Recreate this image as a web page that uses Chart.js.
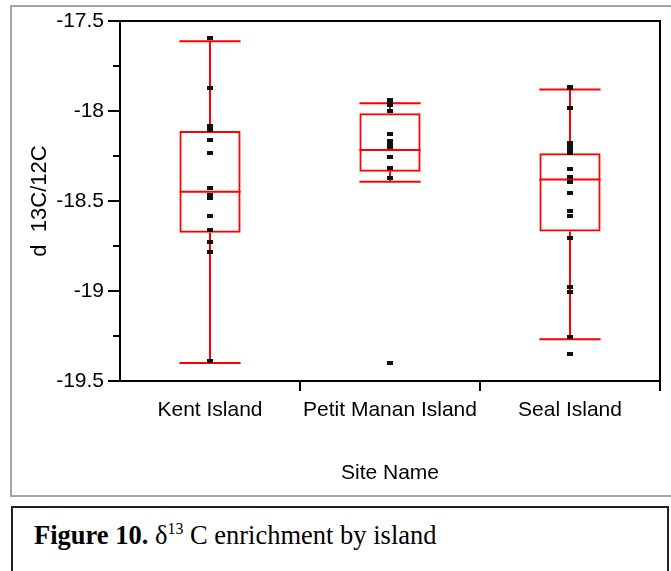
<!DOCTYPE html>
<html>
<head>
<meta charset="utf-8">
<title>d13C by site</title>
<script src="https://cdn.jsdelivr.net/npm/chart.js@4.4.1/dist/chart.umd.min.js"></script>
<style>
    body {
        margin: 0;
        width: 671px;
        height: 571px;
        overflow: hidden;
        background: #fff;
        position: relative;
    }
    .frame {
        position: absolute;
        left: 10px;
        top: 5px;
        width: 680px;
        height: 488px;
        border: 2px solid #a3a3a3;
    }
    #isotope-chart {
        position: absolute;
        left: 0;
        top: 0;
    }
    .caption {
        position: absolute;
        left: 11px;
        top: 506px;
        width: 654px;
        height: 70px;
        border: 2px solid #222;
        font-family: 'Liberation Serif', 'Times New Roman', serif;
        font-size: 26.5px;
        color: #000;
    }
    .caption p {
        margin: 0;
        position: absolute;
        left: 21px;
        top: 12px;
        white-space: nowrap;
    }
    .caption sup {
        font-size: 0.6em;
    }
</style>
</head>
<body>
<div class="frame"></div>
<canvas id="isotope-chart" width="671" height="497"></canvas>
<div class="caption"><p><b>Figure 10.</b> &delta;<sup>13</sup> C enrichment by island</p></div>

<script>
// Sites and the individual d13C/12C measurements for each
const sites = ['Kent Island', 'Petit Manan Island', 'Seal Island'];

const kentValues = [-17.596, -17.874, -18.082, -18.094, -18.106, -18.161, -18.232, -18.429,
    -18.467, -18.486, -18.583, -18.661, -18.729, -18.785, -19.389];
const petitValues = [-17.939, -17.953, -17.967, -17.998, -18.128, -18.167, -18.183, -18.2,
    -18.257, -18.318, -18.374, -19.402];
const sealValues = [-17.864, -17.872, -17.985, -18.179, -18.198, -18.217, -18.235, -18.324,
    -18.365, -18.393, -18.457, -18.556, -18.586, -18.707, -18.976, -19.007, -19.254, -19.35];

// Box summaries per site (same order as sites)
const quartile1 = [-18.676, -18.337, -18.67];
const medians = [-18.448, -18.217, -18.38];
const quartile3 = [-18.111, -18.013, -18.235];
const whiskerLow = [-19.4, -18.393, -19.268];
const whiskerHigh = [-17.613, -17.957, -17.88];

// Y axis range and unlabelled ticks
const yMin = -19.5;
const yMax = -17.5;
const yStep = 0.5;
const minorTicks = [-17.75, -18.25, -18.75, -19.25];

const RED = '#ff0000';
const FONT = "'Liberation Sans', Arial, sans-serif";

// Small flat marker used for every data point
function makeMarker() {
    const c = document.createElement('canvas');
    c.width = 6;
    c.height = 4;
    const g = c.getContext('2d');
    g.fillStyle = '#111';
    g.fillRect(0, 0, 6, 4);
    return c;
}

// Whiskers, caps and median lines, plus the plot frame and minor ticks
const boxPlotLines = {
    id: 'boxPlotLines',
    beforeDatasetsDraw(chart) {
        const { ctx, scales: { x, y } } = chart;
        const boxes = chart.getDatasetMeta(1).data;
        ctx.save();
        ctx.strokeStyle = RED;
        ctx.lineWidth = 2;
        sites.forEach((site, i) => {
            const cx = Math.round(x.getPixelForValue(i));
            const half = boxes[i].width / 2;
            const hi = y.getPixelForValue(whiskerHigh[i]);
            const lo = y.getPixelForValue(whiskerLow[i]);
            const q1 = y.getPixelForValue(quartile1[i]);
            const q3 = y.getPixelForValue(quartile3[i]);
            const med = y.getPixelForValue(medians[i]);
            ctx.beginPath();
            ctx.moveTo(cx, hi);
            ctx.lineTo(cx, q3);
            ctx.moveTo(cx, q1);
            ctx.lineTo(cx, lo);
            ctx.moveTo(cx - half, hi);
            ctx.lineTo(cx + half, hi);
            ctx.moveTo(cx - half, lo);
            ctx.lineTo(cx + half, lo);
            ctx.moveTo(cx - half, med);
            ctx.lineTo(cx + half, med);
            ctx.stroke();
        });
        ctx.restore();
    },
    afterDraw(chart) {
        const { ctx, chartArea: { left, right, top, bottom }, scales: { y } } = chart;
        ctx.save();
        ctx.strokeStyle = '#000';
        ctx.lineWidth = 2;
        ctx.beginPath();
        ctx.moveTo(left - 1, top);
        ctx.lineTo(right, top);
        ctx.lineTo(right, bottom);
        minorTicks.forEach(v => {
            const py = Math.round(y.getPixelForValue(v));
            ctx.moveTo(left - 7, py);
            ctx.lineTo(left, py);
        });
        ctx.stroke();
        ctx.restore();
    }
};

Chart.defaults.color = '#000';
Chart.defaults.font.family = FONT;

const ctx = document.getElementById('isotope-chart').getContext('2d');
new Chart(ctx, {
    type: 'bar',
    data: {
        labels: sites,
        datasets: [
            {
                type: 'scatter',
                label: 'd 13C/12C',
                data: [kentValues, petitValues, sealValues].flatMap((vals, i) =>
                    vals.map(v => ({ x: sites[i], y: v }))),
                pointStyle: makeMarker(),
                order: 0,
            },
            {
                label: 'Quantiles',
                data: sites.map((s, i) => [quartile1[i], quartile3[i]]),
                backgroundColor: 'rgba(0, 0, 0, 0)',
                borderColor: RED,
                borderWidth: 2,
                borderSkipped: false,
                categoryPercentage: 1,
                barPercentage: 0.34,
                order: 1,
            },
        ],
    },
    options: {
        responsive: false,
        animation: false,
        layout: {
            padding: { top: 21, right: 11, left: 0, bottom: 0 },
        },
        plugins: {
            legend: { display: false },
            tooltip: { enabled: false },
        },
        scales: {
            x: {
                type: 'category',
                afterFit: (scale) => { scale.height = 116; },
                border: { display: true, color: '#000', width: 2 },
                grid: {
                    offset: true,
                    drawOnChartArea: false,
                    tickLength: 10,
                    lineWidth: 2,
                    color: (c) => c.index === 0 ? 'rgba(0,0,0,0)' : '#000',
                },
                ticks: {
                    font: { size: 21 },
                    padding: 7,
                    maxRotation: 0,
                    autoSkip: false,
                },
                title: {
                    display: true,
                    text: 'Site Name',
                    font: { size: 21 },
                    padding: { top: 0, bottom: 11 },
                },
            },
            y: {
                min: yMin,
                max: yMax,
                afterFit: (scale) => { scale.width = 120; },
                border: { display: true, color: '#000', width: 2 },
                grid: {
                    drawOnChartArea: false,
                    tickLength: 12,
                    lineWidth: 2,
                    color: '#000',
                },
                ticks: {
                    stepSize: yStep,
                    font: { size: 21 },
                    padding: 4,
                    callback: (value) => String(value),
                },
                title: {
                    display: true,
                    text: 'd  13C/12C',
                    font: { size: 22 },
                    padding: { top: 27, bottom: 0 },
                },
            },
        },
    },
    plugins: [boxPlotLines],
});
</script>
</body>
</html>
